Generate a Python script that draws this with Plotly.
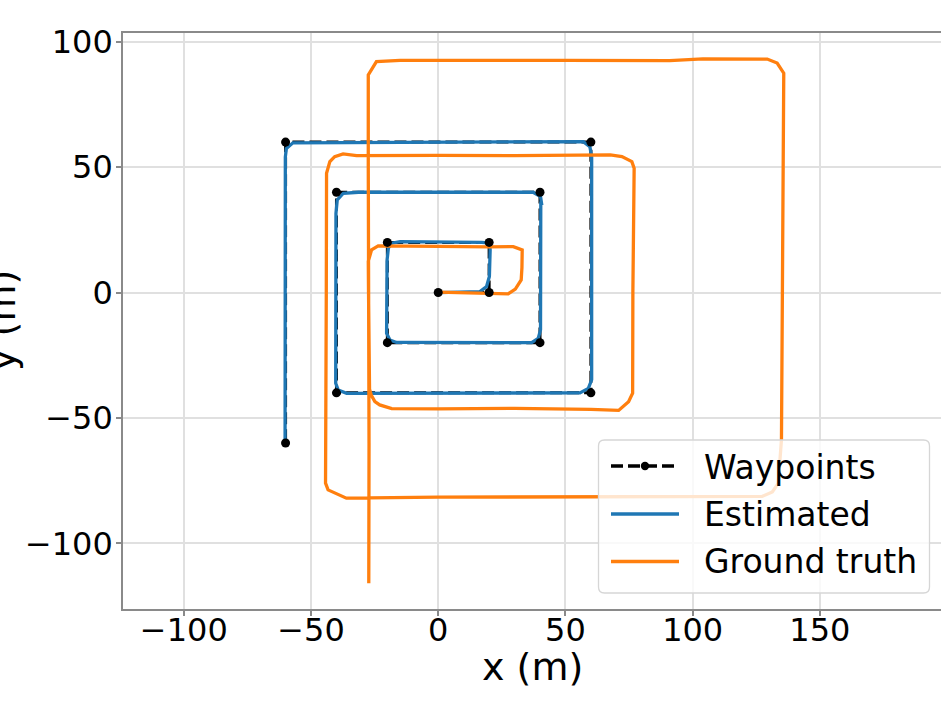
import plotly.graph_objects as go

# ---------------- data ----------------
wp_x = [0, 20, 20, -20, -20, 40, 40, -40, -40, 60, 60, -60, -60]
wp_y = [0, 0, 20, 20, -20, -20, 40, 40, -40, -40, 60, 60, -60]

est_x = [0, 16.4, 19.0, 20.1, 20.4, 20.3, 19.5, 17.0, -15.0, -18.3, -19.6, -20.1, -20.3, -20.3,
         -19.0, -16.4, 36.7, 39.3, 40.2, 40.3, 40.6, 40.2, 37.3, -31.4, -37.3, -39.7, -40.2,
         -40.3, -39.3, -36.0, 55.7, 59.0, 60.3, 60.3, 60.3, 59.6, 57.0, -57.1, -59.7, -60.1, -60.2]
est_y = [0, 0.4, 2.4, 6.4, 17.0, 19.0, 19.8, 20.0, 20.3, 19.7, 17.7, 13.0, -16.2, -16.2,
         -18.9, -19.9, -20.0, -18.3, -14.9, 35.6, 35.6, 38.3, 40.0, 40.0, 39.6, 36.9, 31.6,
         -36.2, -38.9, -40.2, -40.0, -38.2, -34.8, 54.2, 54.2, 58.2, 60.2, 59.7, 57.4, 54.0, -60.3]

gt_x = [0, 10, 25.6, 27.5, 30.3, 32.6, 32.9, 33.0, 29.5, 20, 0, -20, -23.6, -26.2, -27.5,
        -27.4, -27.2, -27.0, -26.3, -24.9, -23.0, -18.3, 0, 30, 60, 70.9, 74.8, 76.4, 76.5,
        76.8, 77.0, 76.1, 72.2, 67.6, 30, 0, -32.1, -37.4, -40.7, -42.6, -43.9, -44.0, -44.2,
        -44.3, -43.3, -38.7, -36.1, 0, 60, 127.3, 131.3, 133.6, 134.9, 135.2, 135.8, 133.2,
        129.3, 104, 91, 50, 12.5, -15, -24.3, -27.5, -27.5, -27.3, -27.2, -27.3]
gt_y = [0.2, 0.0, -0.5, -0.5, 1.4, 5.0, 10, 17.0, 18.3, 18.2, 18.4, 18.5, 18.6, 17.0, 12.5,
        0, -20, -38.5, -41.0, -43.5, -44.8, -46.3, -46.4, -46.2, -46.6, -47.0, -43.5, -40.1, 0,
        30, 49.6, 52.2, 54.2, 54.9, 54.6, 54.7, 54.6, 55.3, 54.2, 52.2, 47.6, 0, -50,
        -76.0, -78.7, -81.0, -82.0, -81.6, -81.5, -81.3, -79.5, -76.1, -58.7, 0, 87.5, 91.5,
        93.1, 93.2, 92.5, 92.6, 92.7, 92.6, 92.1, 86.8, 50, 0, -60, -115.9]

x_ticks = [-100, -50, 0, 50, 100, 150]
x_tick_labels = ["\u2212100", "\u221250", "0", "50", "100", "150"]
y_ticks = [-100, -50, 0, 50, 100]
y_tick_labels = ["\u2212100", "\u221250", "0", "50", "100"]

legend_labels = ["Waypoints", "Estimated", "Ground truth"]
x_label = "x (m)"
y_label = "y (m)"

BLUE = "#1f77b4"
ORANGE = "#ff7f0e"
FONT = "DejaVu Sans"
SPINE = "#8a8a8a"

# ---------------- layout helpers (pixel -> paper) ----------------
W, H = 941, 701
PL, PR, PT, PB = 123, 941, 33, 609
def px(x):
    return (x - PL) / (PR - PL)
def py(y):
    return (PB - y) / (PB - PT)

fig = go.Figure()
fig.add_trace(go.Scatter(x=wp_x, y=wp_y, mode="lines",
                         line=dict(color="black", width=3, dash="12px,5px"),
                         showlegend=False))
fig.add_trace(go.Scatter(x=est_x, y=est_y, mode="lines",
                         line=dict(color=BLUE, width=3.3), showlegend=False))
fig.add_trace(go.Scatter(x=gt_x, y=gt_y, mode="lines",
                         line=dict(color=ORANGE, width=3.3), showlegend=False))
fig.add_trace(go.Scatter(x=wp_x, y=wp_y, mode="markers",
                         marker=dict(color="black", size=9), showlegend=False))

# ---------------- custom legend ----------------
lx0, lx1, ly0, ly1 = 598.5, 929.5, 440, 593
r = 6
rx, ry = r / (PR - PL), r / (PB - PT)
X0, X1, Y0, Y1 = px(lx0), px(lx1), py(ly1), py(ly0)
path = (f"M {X0+rx},{Y1} L {X1-rx},{Y1} Q {X1},{Y1} {X1},{Y1-ry} "
        f"L {X1},{Y0+ry} Q {X1},{Y0} {X1-rx},{Y0} L {X0+rx},{Y0} "
        f"Q {X0},{Y0} {X0},{Y0+ry} L {X0},{Y1-ry} Q {X0},{Y1} {X0+rx},{Y1} Z")
shapes = [dict(type="path", path=path, xref="paper", yref="paper", layer="above",
               fillcolor="rgba(255,255,255,0.8)", line=dict(color="#d6d6d6", width=1.3))]
rows_y = [466, 514, 561.5]
sx0, sx1 = 611, 679
shapes.append(dict(type="line", xref="paper", yref="paper", layer="above",
                   x0=px(sx0), x1=px(sx1), y0=py(rows_y[0]), y1=py(rows_y[0]),
                   line=dict(color="black", width=3.3, dash="12px,5px")))
cx, cy, cr = (sx0 + sx1) / 2, rows_y[0], 4.2
shapes.append(dict(type="circle", xref="paper", yref="paper", layer="above",
                   x0=px(cx - cr), x1=px(cx + cr), y0=py(cy + cr), y1=py(cy - cr),
                   fillcolor="black", line=dict(color="black", width=0)))
for yy, col in zip(rows_y[1:], [BLUE, ORANGE]):
    shapes.append(dict(type="line", xref="paper", yref="paper", layer="above",
                       x0=px(sx0), x1=px(sx1), y0=py(yy), y1=py(yy),
                       line=dict(color=col, width=3.3)))

annotations = []
for yy, lab in zip([467, 514, 561.5], legend_labels):
    annotations.append(dict(text=lab, xref="paper", yref="paper", x=px(702), y=py(yy),
                            xanchor="left", yanchor="middle", showarrow=False,
                            font=dict(family=FONT, size=33, color="black")))
annotations.append(dict(text=x_label, xref="paper", yref="paper", x=px(532), y=py(667),
                        xanchor="center", yanchor="middle", showarrow=False,
                        font=dict(family=FONT, size=38, color="black")))
annotations.append(dict(text=y_label, xref="paper", yref="paper", x=px(2), y=py(321),
                        xanchor="center", yanchor="middle", showarrow=False, textangle=-90,
                        font=dict(family=FONT, size=38, color="black")))

axis_common = dict(showgrid=True, gridcolor="#e0e0e0", gridwidth=1.5, zeroline=False,
                   showline=True, linecolor=SPINE, linewidth=1.6,
                   ticks="outside", ticklen=5, tickwidth=1.5, tickcolor=SPINE,
                   tickfont=dict(family=FONT, size=32, color="black"))

fig.update_layout(
    width=W, height=H,
    margin=dict(l=PL, r=W - PR, t=PT, b=H - PB),
    paper_bgcolor="white", plot_bgcolor="white",
    showlegend=False,
    xaxis=dict(range=[-123.9, 197.6], tickvals=x_ticks, ticktext=x_tick_labels,
               mirror=True, ticklabelstandoff=-13, **axis_common),
    yaxis=dict(range=[-126.2, 103.5], tickvals=y_ticks, ticktext=y_tick_labels,
               mirror=False, ticklabelstandoff=-3, **axis_common),
    shapes=shapes, annotations=annotations,
)

fig.write_html("out.html", config={"displayModeBar": False},
               post_script="document.body.style.margin='0';document.body.style.overflow='hidden';")
